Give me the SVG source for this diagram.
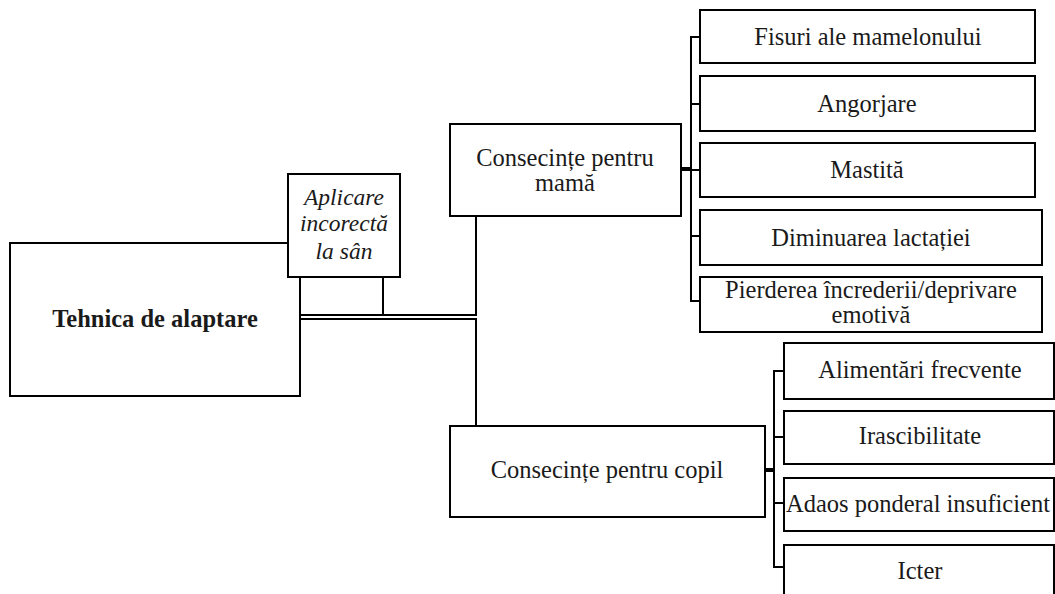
<svg xmlns="http://www.w3.org/2000/svg" width="1055" height="594" viewBox="0 0 1055 594">
  <style>
    .box { fill: #ffffff; stroke: #000000; stroke-width: 2; }
    .wire { fill: none; stroke: #000000; stroke-width: 2; }
    .stub { fill: none; stroke: #000000; stroke-width: 4; }
    .lbl { font-family: 'Liberation Serif', 'DejaVu Serif', serif; font-size: 24.5px; fill: #1a1a1a; text-anchor: middle; }
    .bold { font-weight: bold; }
    .ital { font-style: italic; font-size: 23.5px; }
  </style>
  <rect x="0" y="0" width="1055" height="594" fill="#ffffff"/>

  <!-- connectors -->
  <g id="connectors">
    <!-- from main box / Aplicare to both branches -->
    <polyline class="wire" points="383,277 383,315"/>
    <polyline class="wire" points="300,315 476,315 476,216"/>
    <polyline class="wire" points="300,319 476,319 476,426"/>
    <!-- mother branch bracket -->
    <line class="stub" x1="681" y1="169" x2="691" y2="169"/>
    <polyline class="wire" points="700,37 691,37 691,301 700,301"/>
    <line class="wire" x1="691" y1="104" x2="700" y2="104"/>
    <line class="wire" x1="691" y1="170" x2="700" y2="170"/>
    <line class="wire" x1="691" y1="236" x2="700" y2="236"/>
    <!-- child branch bracket -->
    <line class="stub" x1="765" y1="470" x2="774" y2="470"/>
    <polyline class="wire" points="784,371 774,371 774,567 784,567"/>
    <line class="wire" x1="774" y1="437" x2="784" y2="437"/>
    <line class="wire" x1="774" y1="503" x2="784" y2="503"/>
  </g>

  <!-- root -->
  <g id="node-tehnica">
    <rect class="box" x="10" y="243" width="290" height="153"/>
    <text class="lbl bold" x="155" y="327">Tehnica de alaptare</text>
  </g>

  <g id="node-aplicare">
    <rect class="box" x="288" y="174" width="112" height="103"/>
    <text class="lbl ital" x="344" y="205">Aplicare</text>
    <text class="lbl ital" x="344" y="231">incorectă</text>
    <text class="lbl ital" x="344" y="259">la sân</text>
  </g>

  <!-- branches -->
  <g id="node-mama">
    <rect class="box" x="450" y="124" width="231" height="92"/>
    <text class="lbl" x="565" y="166">Consecințe pentru</text>
    <text class="lbl" x="565" y="191">mamă</text>
  </g>

  <g id="node-copil">
    <rect class="box" x="450" y="426" width="315" height="91"/>
    <text class="lbl" x="607" y="478">Consecințe pentru copil</text>
  </g>

  <!-- consequences for the mother -->
  <g id="node-fisuri">
    <rect class="box" x="700" y="10" width="335" height="53"/>
    <text class="lbl" x="868" y="45">Fisuri ale mamelonului</text>
  </g>
  <g id="node-angorjare">
    <rect class="box" x="700" y="76" width="335" height="55"/>
    <text class="lbl" x="867" y="112">Angorjare</text>
  </g>
  <g id="node-mastita">
    <rect class="box" x="700" y="143" width="335" height="54"/>
    <text class="lbl" x="867" y="178">Mastită</text>
  </g>
  <g id="node-diminuarea">
    <rect class="box" x="700" y="210" width="342" height="55"/>
    <text class="lbl" x="871" y="246">Diminuarea lactației</text>
  </g>
  <g id="node-pierderea">
    <rect class="box" x="700" y="277" width="342" height="55"/>
    <text class="lbl" x="871" y="298">Pierderea încrederii/deprivare</text>
    <text class="lbl" x="871" y="323">emotivă</text>
  </g>

  <!-- consequences for the child -->
  <g id="node-alimentari">
    <rect class="box" x="784" y="343" width="270" height="56"/>
    <text class="lbl" x="920" y="378">Alimentări  frecvente</text>
  </g>
  <g id="node-irascibilitate">
    <rect class="box" x="784" y="411" width="270" height="53"/>
    <text class="lbl" x="920" y="444">Irascibilitate</text>
  </g>
  <g id="node-adaos">
    <rect class="box" x="784" y="478" width="270" height="53"/>
    <text class="lbl" x="918" y="512">Adaos ponderal insuficient</text>
  </g>
  <g id="node-icter">
    <rect class="box" x="784" y="545" width="270" height="60"/>
    <text class="lbl" x="920" y="579">Icter</text>
  </g>
</svg>
